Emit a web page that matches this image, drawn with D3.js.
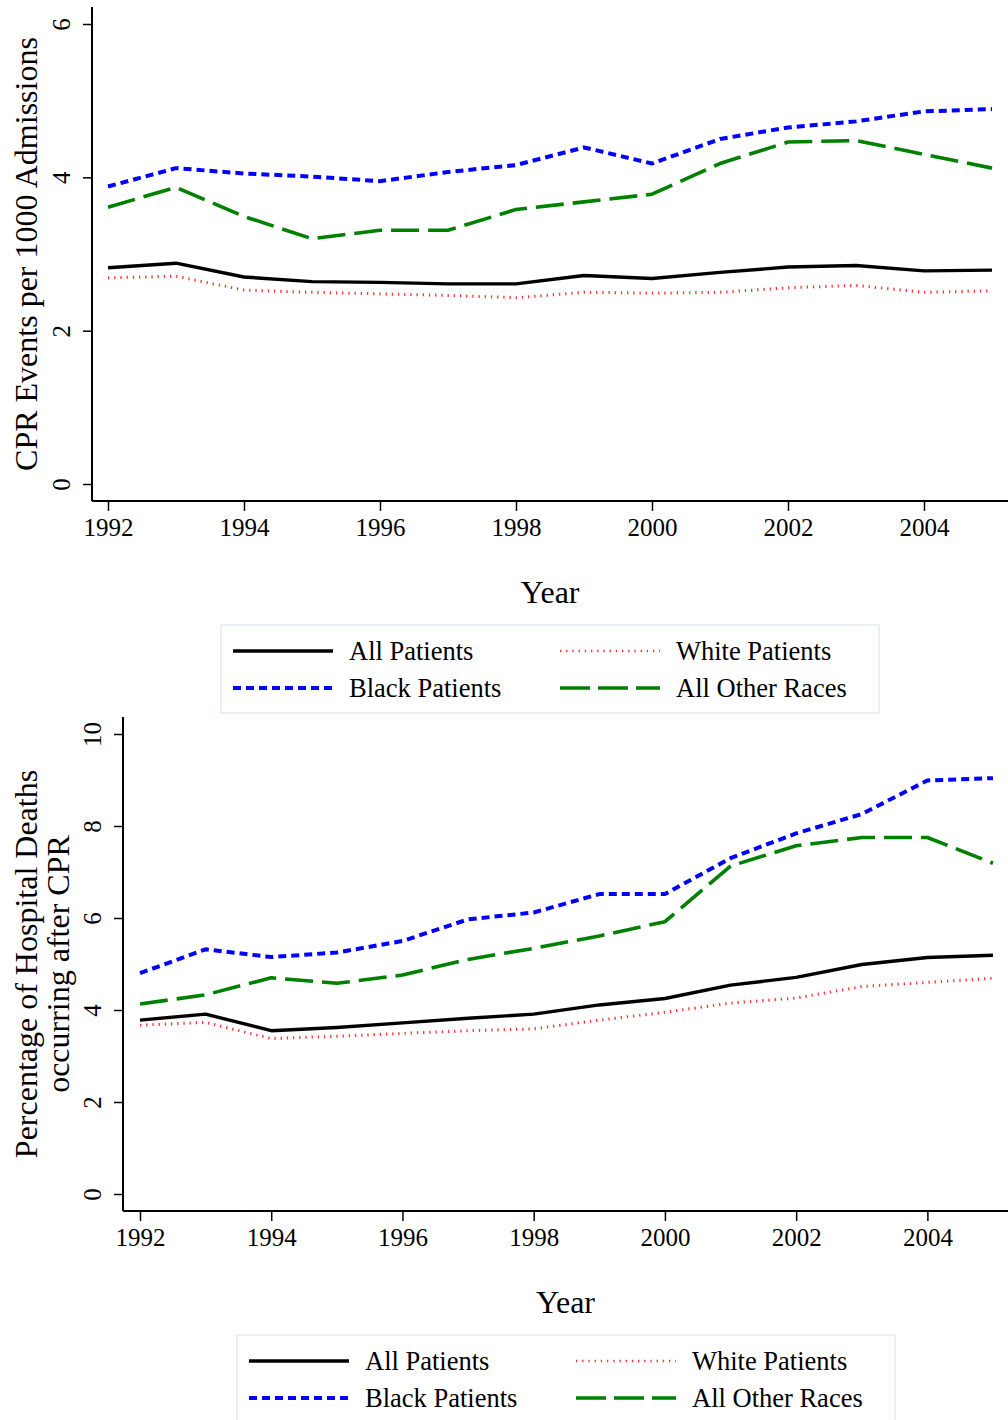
<!DOCTYPE html>
<html>
<head>
<meta charset="utf-8">
<script src="https://cdn.jsdelivr.net/npm/d3@7"></script>
<style>
  body { margin: 0; background: #fff; }
  svg { display: block; font-family: "Liberation Serif", "DejaVu Serif", serif; }
</style>
</head>
<body>
<svg id="chart" width="1008" height="1420"></svg>
<script>
const years = [1992, 1993, 1994, 1995, 1996, 1997, 1998, 1999, 2000, 2001, 2002, 2003, 2004, 2005];
const yearTicks = [1992, 1994, 1996, 1998, 2000, 2002, 2004];

// panel 1: CPR events per 1000 admissions
const cprAll   = [2.82, 2.88, 2.70, 2.64, 2.63, 2.61, 2.61, 2.72, 2.68, 2.76, 2.83, 2.85, 2.78, 2.79];
const cprWhite = [2.69, 2.71, 2.53, 2.50, 2.48, 2.46, 2.43, 2.50, 2.49, 2.50, 2.56, 2.59, 2.50, 2.52];
const cprBlack = [3.88, 4.12, 4.05, 4.01, 3.95, 4.07, 4.16, 4.39, 4.18, 4.50, 4.65, 4.73, 4.86, 4.89];
const cprOther = [3.61, 3.87, 3.49, 3.20, 3.31, 3.31, 3.58, 3.68, 3.78, 4.18, 4.46, 4.48, 4.30, 4.12];
const cprTicks = [0, 2, 4, 6];

// panel 2: % of hospital deaths occurring after CPR
const deathAll   = [3.78, 3.91, 3.55, 3.62, 3.72, 3.82, 3.91, 4.11, 4.25, 4.54, 4.71, 4.99, 5.14, 5.19];
const deathWhite = [3.67, 3.73, 3.38, 3.43, 3.49, 3.55, 3.59, 3.78, 3.95, 4.15, 4.26, 4.51, 4.60, 4.69];
const deathBlack = [4.80, 5.32, 5.15, 5.25, 5.50, 5.97, 6.12, 6.52, 6.52, 7.30, 7.84, 8.26, 8.99, 9.04];
const deathOther = [4.13, 4.33, 4.70, 4.58, 4.76, 5.10, 5.34, 5.61, 5.92, 7.13, 7.57, 7.75, 7.75, 7.19];
const deathTicks = [0, 2, 4, 6, 8, 10];

const seriesNames = ["All Patients", "White Patients", "Black Patients", "All Other Races"];

const styles = {
  "All Patients":    { color: "#000000", width: 3.4, dash: null },
  "White Patients":  { color: "#ff3030", width: 3,   dash: "1.3,4.9" },
  "Black Patients":  { color: "#0000ff", width: 4,   dash: "8,5" },
  "All Other Races": { color: "#008000", width: 3.6, dash: "28,9" },
};

const svg = d3.select("#chart");

function drawPanel(cfg) {
  const g = svg.append("g");

  const x = d3.scaleLinear().domain([1992, 2005]).range([cfg.x0, cfg.x1]);
  const y = d3.scaleLinear().domain([0, cfg.yMax]).range([cfg.y0, cfg.yTop]);

  // axis lines
  g.append("line")
    .attr("x1", cfg.axisX).attr("x2", cfg.axisX)
    .attr("y1", cfg.axisTop).attr("y2", cfg.axisY)
    .attr("stroke", "#000").attr("stroke-width", 2);
  g.append("line")
    .attr("x1", cfg.axisX).attr("x2", 1008)
    .attr("y1", cfg.axisY).attr("y2", cfg.axisY)
    .attr("stroke", "#000").attr("stroke-width", 2);

  const yAxis = g.append("g")
    .attr("transform", `translate(${cfg.axisX},0)`)
    .call(d3.axisLeft(y).tickValues(cfg.ticks).tickSize(9).tickFormat(d3.format("d")));
  yAxis.select(".domain").remove();
  yAxis.selectAll(".tick line").attr("stroke", "#000").attr("stroke-width", 1.5);
  yAxis.selectAll(".tick text")
    .attr("transform", "rotate(-90)")
    .attr("x", 0).attr("y", -22.5).attr("dy", null)
    .attr("text-anchor", "middle")
    .attr("font-size", 25)
    .attr("font-family", "Liberation Serif")
    .attr("fill", "#000");

  const xAxis = g.append("g")
    .attr("transform", `translate(0,${cfg.axisY})`)
    .call(d3.axisBottom(x).tickValues(yearTicks).tickSize(10).tickFormat(d3.format("d")));
  xAxis.select(".domain").remove();
  xAxis.selectAll(".tick line").attr("stroke", "#000").attr("stroke-width", 1.5);
  xAxis.selectAll(".tick text")
    .attr("y", 35).attr("dy", null)
    .attr("font-size", 25)
    .attr("font-family", "Liberation Serif")
    .attr("fill", "#000");

  // titles
  g.append("text")
    .attr("x", (cfg.axisX + 1008) / 2).attr("y", cfg.axisY + 102)
    .attr("text-anchor", "middle").attr("font-size", 32)
    .text("Year");

  cfg.yTitle.forEach((t, i) => {
    g.append("text")
      .attr("transform", `translate(${cfg.yTitleX + i * 32},${cfg.yTitleY}) rotate(-90)`)
      .attr("text-anchor", "middle").attr("font-size", 32)
      .text(t);
  });

  // lines
  const line = d3.line().x((d, i) => x(years[i])).y(d => y(d));
  const order = ["All Other Races", "Black Patients", "White Patients", "All Patients"];
  order.forEach(name => {
    const st = styles[name];
    g.append("path")
      .datum(cfg.data[name])
      .attr("d", line)
      .attr("fill", "none")
      .attr("stroke", st.color)
      .attr("stroke-width", st.width)
      .attr("stroke-dasharray", st.dash)
      .attr("stroke-linejoin", "round");
  });

  // legend
  const lg = g.append("g");
  lg.append("rect")
    .attr("x", cfg.legX).attr("y", cfg.legY)
    .attr("width", 658).attr("height", 88)
    .attr("fill", "#fff").attr("stroke", "#e3ecef").attr("stroke-width", 1.5);

  seriesNames.forEach((name, i) => {
    const col = i % 2, row = Math.floor(i / 2);
    const lx = cfg.legX + 12 + col * 327;
    const ly = cfg.legY + 26 + row * 37;
    const st = styles[name];
    lg.append("line")
      .attr("x1", lx).attr("x2", lx + 100)
      .attr("y1", ly).attr("y2", ly)
      .attr("stroke", st.color)
      .attr("stroke-width", name === "White Patients" ? 2.6 : st.width)
      .attr("stroke-dasharray", name === "All Other Races" ? "30,8" : st.dash);
    lg.append("text")
      .attr("x", lx + 116).attr("y", ly + 9)
      .attr("font-size", 26.5)
      .text(name);
  });
}

drawPanel({
  x0: 108, x1: 992, y0: 484, yTop: 24, yMax: 6,
  axisX: 92, axisY: 501, axisTop: 7,
  ticks: cprTicks,
  yTitle: ["CPR Events per 1000 Admissions"], yTitleX: 37, yTitleY: 254,
  legX: 221, legY: 625,
  data: {
    "All Patients": cprAll, "White Patients": cprWhite,
    "Black Patients": cprBlack, "All Other Races": cprOther
  }
});

drawPanel({
  x0: 140, x1: 993, y0: 1194, yTop: 734, yMax: 10,
  axisX: 123, axisY: 1211, axisTop: 717,
  ticks: deathTicks,
  yTitle: ["Percentage of Hospital Deaths", "occurring after CPR"], yTitleX: 37, yTitleY: 964,
  legX: 237, legY: 1335,
  data: {
    "All Patients": deathAll, "White Patients": deathWhite,
    "Black Patients": deathBlack, "All Other Races": deathOther
  }
});
</script>
</body>
</html>
